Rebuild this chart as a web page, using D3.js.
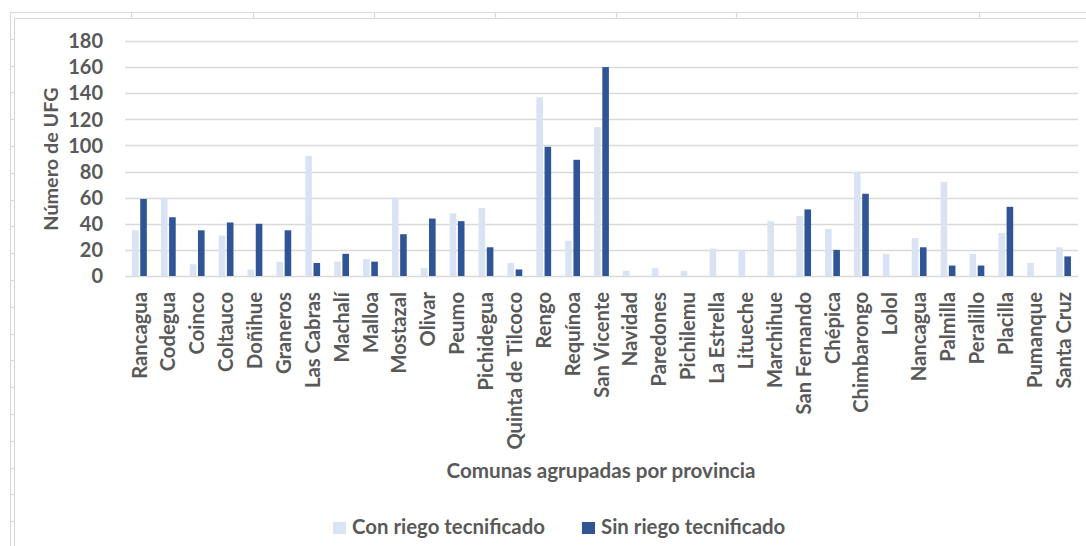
<!DOCTYPE html>
<html><head><meta charset="utf-8">
<script src="https://cdn.jsdelivr.net/npm/d3@7"></script>
<style>body{margin:0;background:#fff}svg{display:block}</style>
</head><body><svg id="c" width="1086" height="546"></svg>
<script>
const categories = ["Rancagua","Codegua","Coinco","Coltauco","Doñihue","Graneros","Las Cabras","Machalí","Malloa","Mostazal","Olivar","Peumo","Pichidegua","Quinta de Tilcoco","Rengo","Requínoa","San Vicente","Navidad","Paredones","Pichilemu","La Estrella","Litueche","Marchihue","San Fernando","Chépica","Chimbarongo","Lolol","Nancagua","Palmilla","Peralillo","Placilla","Pumanque","Santa Cruz"];
const conRiego = [35,60,9,31,5,11,92,11,13,60,6,48,52,10,137,27,114,4,6,4,21,20,42,46,36,80,17,29,72,17,33,10,22];
const sinRiego = [59,45,35,41,40,35,10,17,11,32,44,42,22,5,99,89,160,0,0,0,0,0,0,51,20,63,0,22,8,8,53,0,15];
const yTicks = [0,20,40,60,80,100,120,140,160,180];
const seriesNames = ["Con riego tecnificado","Sin riego tecnificado"];
const colors = ["#DAE3F3","#2F5597"];

const svg = d3.select("#c");
const FONT = "Lato, 'Open Sans', sans-serif";
const TXT = "#595959";

// spreadsheet border artifacts
const art = svg.append("g").attr("stroke","#d9d9d9").attr("stroke-width",1.2).attr("fill","none");
art.append("line").attr("x1",10).attr("x2",1086).attr("y1",12.5).attr("y2",12.5);
art.append("line").attr("x1",14).attr("x2",1086).attr("y1",18.5).attr("y2",18.5);
art.append("line").attr("x1",10.5).attr("x2",10.5).attr("y1",12).attr("y2",546);
art.append("line").attr("x1",14.5).attr("x2",14.5).attr("y1",18).attr("y2",546);
d3.range(1,20).map(k=>12+26.8*k).filter(y=>y<546).forEach(y=>{
  art.append("line").attr("x1",10).attr("x2",14).attr("y1",Math.round(y)+0.5).attr("y2",Math.round(y)+0.5);
});
[131,253,374,495,616,736,857,979].forEach(x=>{
  art.append("line").attr("x1",x+0.5).attr("x2",x+0.5).attr("y1",12).attr("y2",18);
});

const x = d3.scaleBand().domain(categories).range([125,1078]);
const y = d3.scaleLinear().domain([0,180]).range([276,41]);

// gridlines
svg.append("g").selectAll("line").data(yTicks).join("line")
  .attr("x1",125).attr("x2",1078)
  .attr("y1",d=>Math.round(y(d))+0.5).attr("y2",d=>Math.round(y(d))+0.5)
  .attr("stroke","#d9d9d9").attr("stroke-width",1.3);

// y tick labels
svg.append("g").selectAll("text").data(yTicks).join("text")
  .attr("x",103).attr("y",d=>y(d)).attr("dy","0.36em")
  .attr("text-anchor","end").attr("font-family",FONT).attr("font-weight","bold")
  .attr("font-size",20).attr("fill",TXT).text(d=>d);

// bars
const bw = 6.6, gap = 1.6;
const series = [conRiego, sinRiego];
series.forEach((vals,si)=>{
  svg.append("g").selectAll("rect").data(categories).join("rect")
    .attr("x",(d)=>x(d)+x.bandwidth()/2 + (si===0 ? -(bw+gap/2) : gap/2))
    .attr("width",bw)
    .attr("y",(d,i)=>y(vals[i]))
    .attr("height",(d,i)=>y(0)-y(vals[i]))
    .attr("fill",colors[si]);
});

// x labels
svg.append("g").selectAll("text").data(categories).join("text")
  .attr("transform",d=>`translate(${x(d)+x.bandwidth()/2},292) rotate(-90)`)
  .attr("text-anchor","end").attr("dy","0.35em")
  .attr("font-family",FONT).attr("font-weight","bold").attr("font-size",20.2)
  .attr("fill",TXT).text(d=>d);

// axis titles
svg.append("text").attr("transform","translate(51,159) rotate(-90)")
  .attr("text-anchor","middle").attr("dy","0.35em")
  .attr("font-family",FONT).attr("font-weight","bold").attr("font-size",19.8)
  .attr("fill",TXT).text("Número de UFG");
svg.append("text").attr("x",601).attr("y",478)
  .attr("text-anchor","middle")
  .attr("font-family",FONT).attr("font-weight","bold").attr("font-size",20.6)
  .attr("fill",TXT).text("Comunas agrupadas por provincia");

// legend
const legX = [333,582];
seriesNames.forEach((n,i)=>{
  svg.append("rect").attr("x",legX[i]).attr("y",522).attr("width",13).attr("height",12).attr("fill",colors[i]);
  svg.append("text").attr("x",legX[i]+19).attr("y",534)
    .attr("font-family",FONT).attr("font-weight","bold").attr("font-size",20.4)
    .attr("fill",TXT).text(n);
});
</script></body></html>
